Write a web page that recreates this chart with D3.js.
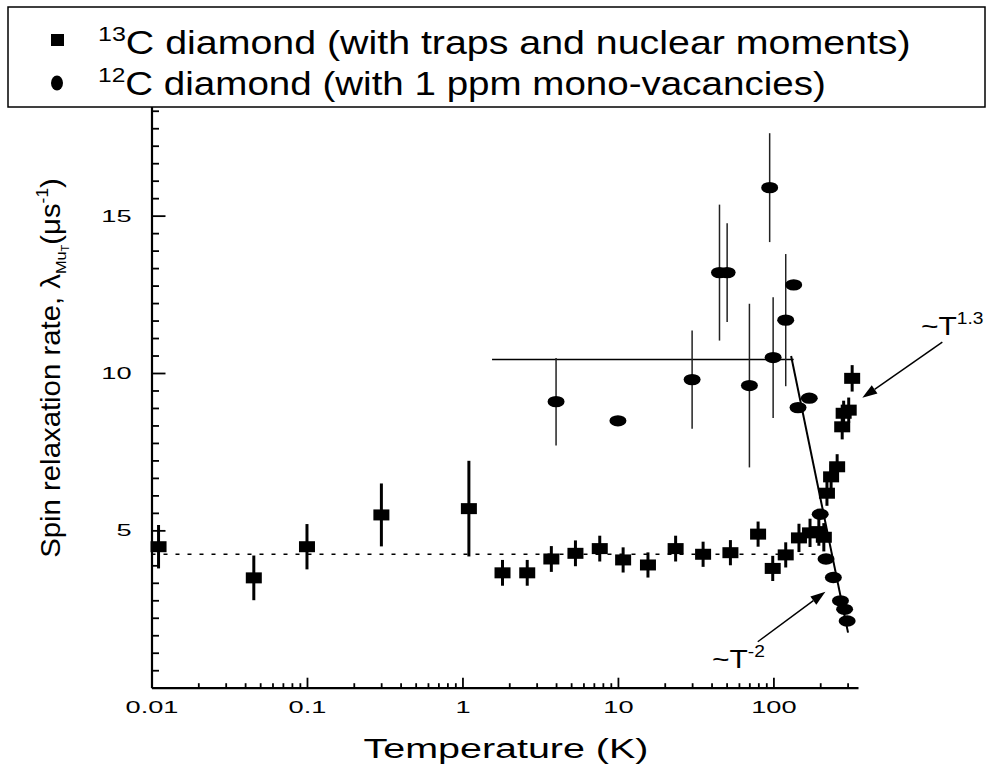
<!DOCTYPE html>
<html><head><meta charset="utf-8">
<script src="https://cdn.jsdelivr.net/npm/d3@7"></script>
<style>
body{margin:0;background:#fff}
svg{display:block}
text{font-family:"Liberation Sans",Arial,Helvetica,sans-serif;fill:#000}
</style>
</head><body>
<svg id="chart" width="992" height="765"></svg>
<script>
// ---------- data ----------
// 13C diamond (squares)
const sqT   = [0.0111,0.0455,0.100,0.301,1.10,1.81,2.61,3.73,5.33,7.64,10.8,15.6,23.5,35.3,52.9,79.7,99,120,146,172,196,211,221,235,257,277,283,305,321];
const sqV   = [4.48,3.49,4.48,5.49,5.69,3.65,3.65,4.09,4.27,4.42,4.06,3.90,4.42,4.24,4.29,4.88,3.79,4.22,4.76,4.92,4.96,4.78,6.18,6.70,7.02,8.29,8.72,8.82,9.83];
const sqErr = [0.69,0.71,0.72,1.0,1.52,0.41,0.41,0.41,0.41,0.41,0.40,0.40,0.41,0.40,0.40,0.40,0.40,0.40,0.45,0.45,0.45,0.45,0.40,0.40,0.40,0.40,0.40,0.40,0.42];
// 12C diamond (circles)
const ciT   = [4.0,10.0,30.0,45.0,50.4,70.1,94.6,99.6,120,135,144,170,200,218,243,270,287,298];
const ciV   = [9.09,8.48,9.79,13.19,13.19,9.60,15.89,10.49,11.68,12.80,8.90,9.20,5.51,4.09,3.50,2.76,2.49,2.12];
const ciErr = [1.39,0,1.56,2.16,1.57,2.6,1.73,1.92,2.1,0,0,0,0,0,0,0,0,0];
// guide lines
const plateauT = [1.55,135];   const plateauV = [10.43,10.43];
const baseT    = [0.01,205];   const baseV    = [4.24,4.24];
const slopeT   = [130,302];    const slopeV   = [10.54,1.75];
// annotations (arrow from -> to, in data units)
const annT13 = {from:[1220,10.98], to:[373,9.21]};
const annTm2 = {from:[79.3,1.46], to:[216,3.05]};
// axes
const xMajor = [0.01,0.1,1,10,100];
const xMajorLabels = ["0.01","0.1","1","10","100"];
const yMajor = [5,10,15];
const yMajorLabels = ["5","10","15"];
const legendLabels = [["13","C diamond (with traps and nuclear moments)"],["12","C diamond (with 1 ppm mono-vacancies)"]];

// ---------- scales ----------
const svg = d3.select("#chart");
const x = d3.scaleLog().domain([0.01, 350]).range([151.5, 858]);
const y = d3.scaleLinear().domain([0, 18.5]).range([687.7, 105.5]);

const xMinor = [];
[0.01,0.1,1,10,100].forEach(d=>{for(let k=2;k<=9;k++){const v=d*k; if(v<=350) xMinor.push(v);}});
const yMinor = [];
for(let k=0;k*5/9<=18.5;k++){ if(k%9!==0) yMinor.push(k*5/9); }

// ---------- axes ----------
const SX = 1.6; // horizontal stretch of text in original
const gxMin = svg.append("g").attr("transform",`translate(0,${y(0)})`)
  .call(d3.axisBottom(x).tickValues(xMinor).tickSize(-4.5).tickFormat(""));
gxMin.select(".domain").remove();
const gx = svg.append("g").attr("transform",`translate(0,${y(0)})`)
  .call(d3.axisBottom(x).tickValues(xMajor).tickSize(-10).tickSizeOuter(0).tickPadding(13).tickFormat((d,i)=>xMajorLabels[i]));
gx.selectAll("text").attr("font-size",17).attr("font-family",null).attr("transform",`scale(${SX},1)`);

const gyMin = svg.append("g").attr("transform",`translate(${x(0.01)},0)`)
  .call(d3.axisLeft(y).tickValues(yMinor).tickSize(-7.5).tickFormat(""));
gyMin.select(".domain").remove();
const gy = svg.append("g").attr("transform",`translate(${x(0.01)},0)`)
  .call(d3.axisLeft(y).tickValues(yMajor).tickSize(-14).tickSizeOuter(0).tickFormat((d,i)=>yMajorLabels[i]));
gy.selectAll("text").attr("font-size",17).attr("font-family",null).attr("x",0)
  .attr("transform",`translate(-20,0) scale(${SX},1)`);

svg.selectAll(".domain").attr("stroke-width",2.2);
svg.selectAll(".tick line").attr("stroke-width",1.8);

// ---------- guide lines ----------
const line = d3.line().x(d=>x(d[0])).y(d=>y(d[1]));
svg.append("path").attr("d",line(baseT.map((t,i)=>[t,baseV[i]])))
  .attr("stroke","#000").attr("stroke-width",1.5).attr("stroke-dasharray","4,8").attr("fill","none");
svg.append("path").attr("d",line(plateauT.map((t,i)=>[t,plateauV[i]])))
  .attr("stroke","#000").attr("stroke-width",1.4).attr("fill","none");
svg.append("path").attr("d",line(slopeT.map((t,i)=>[t,slopeV[i]])))
  .attr("stroke","#000").attr("stroke-width",2).attr("fill","none");

// ---------- error bars ----------
svg.append("g").selectAll("line").data(ciT.map((t,i)=>({t,v:ciV[i],e:ciErr[i]})).filter(d=>d.e>0))
  .join("line").attr("x1",d=>x(d.t)).attr("x2",d=>x(d.t))
  .attr("y1",d=>y(d.v+d.e)).attr("y2",d=>y(d.v-d.e))
  .attr("stroke","#222").attr("stroke-width",1.5);
svg.append("g").selectAll("line").data(sqT.map((t,i)=>({t,v:sqV[i],e:sqErr[i]})))
  .join("line").attr("x1",d=>x(d.t)).attr("x2",d=>x(d.t))
  .attr("y1",d=>y(d.v+d.e)).attr("y2",d=>y(d.v-d.e))
  .attr("stroke","#000").attr("stroke-width",3);

// ---------- markers ----------
svg.append("g").selectAll("rect").data(sqT.map((t,i)=>({t,v:sqV[i]})))
  .join("rect").attr("x",d=>x(d.t)-8).attr("y",d=>y(d.v)-5.5)
  .attr("width",16).attr("height",11).attr("fill","#000");
svg.append("g").selectAll("ellipse").data(ciT.map((t,i)=>({t,v:ciV[i]})))
  .join("ellipse").attr("cx",d=>x(d.t)).attr("cy",d=>y(d.v))
  .attr("rx",8.5).attr("ry",5.7).attr("fill","#000");

// ---------- annotations ----------
function arrow(a){
  const x1=x(a.from[0]), y1=y(a.from[1]), x2=x(a.to[0]), y2=y(a.to[1]);
  const ang=Math.atan2(y2-y1,x2-x1), L=15, W=5;
  const bx=x2-L*Math.cos(ang), by=y2-L*Math.sin(ang);
  svg.append("line").attr("x1",x1).attr("y1",y1).attr("x2",bx).attr("y2",by).attr("stroke","#000").attr("stroke-width",1.5);
  svg.append("path").attr("d",`M${x2},${y2}L${bx-W*Math.sin(ang)},${by+W*Math.cos(ang)}L${bx+W*Math.sin(ang)},${by-W*Math.cos(ang)}Z`).attr("fill","#000");
}
arrow(annT13); arrow(annTm2);

function powerLabel(px,py,sup){
  const t=svg.append("text").attr("transform",`translate(${px},${py}) scale(1.2,1)`).attr("font-size",25);
  t.append("tspan").text("~T");
  t.append("tspan").attr("font-size",16).attr("dy",-11).text(sup);
}
powerLabel(921,335,"1.3");
powerLabel(712,668,"-2");

// ---------- axis titles ----------
const xt = svg.append("text").attr("font-size",28).attr("text-anchor","middle").text("Temperature (K)");
{const w = xt.node().getComputedTextLength(); const s = 285/w;
 xt.attr("transform",`translate(506,758) scale(${s},1)`);}

const yt = svg.append("text").attr("font-size",27).attr("text-anchor","middle");
yt.append("tspan").text("Spin relaxation rate,  λ");
yt.append("tspan").attr("font-size",15).attr("dy",6).text("Mu");
yt.append("tspan").attr("font-size",10).attr("dy",3).text("T");
yt.append("tspan").attr("dy",-9).text("(μs");
yt.append("tspan").attr("font-size",16).attr("dy",-12).text("-1");
yt.append("tspan").attr("dy",12).text(")");
{const w = yt.node().getComputedTextLength(); const s = 380/w;
 yt.attr("transform",`translate(60,368) rotate(-90) scale(${s},1)`);}

// ---------- legend ----------
svg.append("rect").attr("x",8).attr("y",7).attr("width",977).attr("height",100)
  .attr("fill","#fff").attr("stroke","#000").attr("stroke-width",1.5);
svg.append("rect").attr("x",51).attr("y",34).attr("width",13).attr("height",12).attr("fill","#000");
svg.append("ellipse").attr("cx",57).attr("cy",83).attr("rx",6).attr("ry",7.5).attr("fill","#000");
const legW = [813, 728], legY = [54, 95];
legendLabels.forEach((lab,i)=>{
  const t = svg.append("text").attr("font-size",33);
  t.append("tspan").attr("font-size",21).attr("dy",-13).text(lab[0]);
  t.append("tspan").attr("dy",13).text(lab[1]);
  const w = t.node().getComputedTextLength(); const s = legW[i]/w;
  t.attr("transform",`translate(98,${legY[i]}) scale(${s},1)`);
});
</script>
</body></html>
